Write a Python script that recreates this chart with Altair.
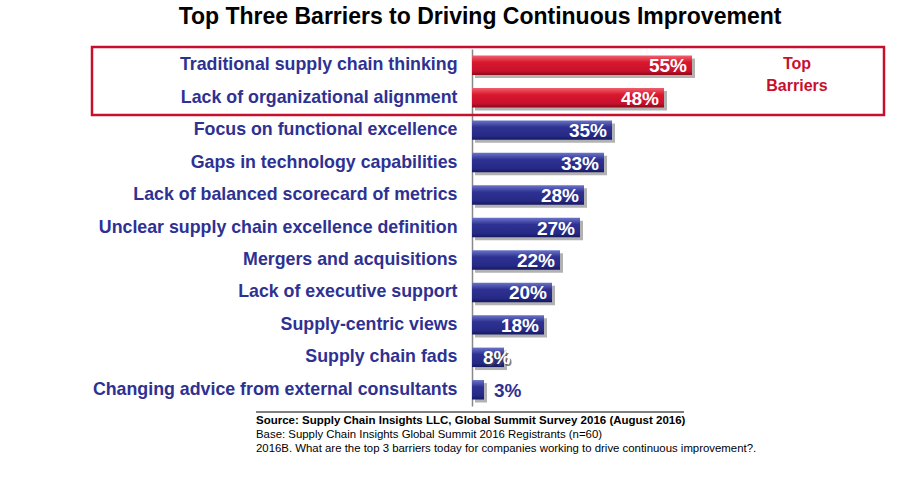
import altair as alt
import pandas as pd

categories = [
    "Traditional supply chain thinking",
    "Lack of organizational alignment",
    "Focus on functional excellence",
    "Gaps in technology capabilities",
    "Lack of balanced scorecard of metrics",
    "Unclear supply chain excellence definition",
    "Mergers and acquisitions",
    "Lack of executive support",
    "Supply-centric views",
    "Supply chain fads",
    "Changing advice from external consultants",
]
values = [55, 48, 35, 33, 28, 27, 22, 20, 18, 8, 3]
groups = ["top", "top"] + ["other"] * 9

title_text = "Top Three Barriers to Driving Continuous Improvement"
footnotes = [
    "Source: Supply Chain Insights LLC, Global Summit Survey 2016 (August 2016)",
    "Base:  Supply Chain Insights Global Summit 2016 Registrants (n=60)",
    "2016B. What are the top 3 barriers today for companies working to drive continuous improvement?.",
]
box_label = ["Top", "Barriers"]

df = pd.DataFrame({"cat": categories, "val": values, "grp": groups})
df["lbl"] = df["val"].astype(str) + "%"

FONT = "Liberation Sans"
NAVY = "#2e3192"
RED = "#c8102e"

W, H = 400, 357
x_scale = alt.Scale(domain=[0, 100])
y_enc = alt.Y("cat:N", sort=categories,
              scale=alt.Scale(paddingInner=0.40, paddingOuter=0.2),
              axis=alt.Axis(title=None, ticks=False, labelFont=FONT, labelFontSize=17.8,
                            labelFontWeight="bold", labelColor=NAVY, labelPadding=15,
                            labelLimit=500, domainColor="#888888", domainWidth=1.5))
x_enc = alt.X("val:Q", scale=x_scale, axis=None)

base = alt.Chart(df)

blue_grad = alt.Gradient(gradient="linear", x1=0, y1=0, x2=0, y2=1,
                         stops=[alt.GradientStop(color="#6a74c8", offset=0),
                                alt.GradientStop(color="#2e3192", offset=0.35),
                                alt.GradientStop(color="#262a85", offset=0.8),
                                alt.GradientStop(color="#151860", offset=1)])
red_grad = alt.Gradient(gradient="linear", x1=0, y1=0, x2=0, y2=1,
                        stops=[alt.GradientStop(color="#f06070", offset=0),
                               alt.GradientStop(color="#d8182c", offset=0.35),
                               alt.GradientStop(color="#c8102e", offset=0.8),
                               alt.GradientStop(color="#8a0a18", offset=1)])

shadow = base.mark_bar(color="#555555", opacity=0.45, xOffset=3, yOffset=3).encode(x=x_enc, y=y_enc)
bars_blue = base.transform_filter(alt.datum.grp == "other").mark_bar(color=blue_grad).encode(x=x_enc, y=y_enc)
bars_red = base.transform_filter(alt.datum.grp == "top").mark_bar(color=red_grad).encode(x=x_enc, y=y_enc)

lbl_in = base.transform_filter(alt.datum.val >= 10).mark_text(
    align="right", baseline="middle", dx=-5, dy=1, font=FONT, fontSize=19,
    fontWeight="bold", color="white").encode(x=x_enc, y=y_enc, text="lbl:N")
small = base.transform_filter((alt.datum.val >= 5) & (alt.datum.val < 10))
lbl_mid_sh = small.mark_text(
    align="left", baseline="middle", dx=1.5, dy=2.5, font=FONT, fontSize=19,
    fontWeight="bold", color="#444444", opacity=0.7).encode(x=alt.value(11), y=y_enc, text="lbl:N")
lbl_mid = small.mark_text(
    align="left", baseline="middle", dy=1, font=FONT, fontSize=19,
    fontWeight="bold", color="white").encode(x=alt.value(11), y=y_enc, text="lbl:N")
lbl_out = base.transform_filter(alt.datum.val < 5).mark_text(
    align="left", baseline="middle", dx=10, dy=1, font=FONT, fontSize=19,
    fontWeight="bold", color=NAVY).encode(x=x_enc, y=y_enc, text="lbl:N")

one = alt.Chart(pd.DataFrame({"k": [0]}))

box = one.mark_rect(fill=None, stroke=RED, strokeWidth=2.5).encode(
    x=alt.value(-380), x2=alt.value(412), y=alt.value(-2), y2=alt.value(66))

box_txt1 = one.mark_text(align="center", baseline="middle", font=FONT, fontSize=16,
                         fontWeight="bold", color=RED).encode(
    x=alt.value(325), y=alt.value(15), text=alt.value(box_label[0]))
box_txt2 = one.mark_text(align="center", baseline="middle", font=FONT, fontSize=16,
                         fontWeight="bold", color=RED).encode(
    x=alt.value(325), y=alt.value(37), text=alt.value(box_label[1]))

title = one.mark_text(align="center", baseline="middle", font=FONT, fontSize=23,
                      fontWeight="bold", color="black").encode(
    x=alt.value(8), y=alt.value(-32), text=alt.value(title_text))

rule = one.mark_rule(color="black", strokeWidth=1).encode(
    x=alt.value(-216), x2=alt.value(212), y=alt.value(363))

fn0 = one.mark_text(align="left", baseline="middle", font=FONT, fontSize=11.5,
                    fontWeight="bold", color="black").encode(
    x=alt.value(-216), y=alt.value(372), text=alt.value(footnotes[0]))
fn1 = one.mark_text(align="left", baseline="middle", font=FONT, fontSize=11.4,
                    color="black").encode(
    x=alt.value(-216), y=alt.value(386), text=alt.value(footnotes[1]))
fn2 = one.mark_text(align="left", baseline="middle", font=FONT, fontSize=11.4,
                    color="black").encode(
    x=alt.value(-216), y=alt.value(400), text=alt.value(footnotes[2]))

chart = alt.layer(
    shadow, bars_blue, bars_red, lbl_in, lbl_mid_sh, lbl_mid, lbl_out, box, box_txt1, box_txt2,
    title, rule, fn0, fn1, fn2
).properties(
    width=W, height=H,
    padding={"left": 472, "top": 49, "right": 28, "bottom": 74},
    autosize=alt.AutoSizeParams(type="none"),
    background="white",
).configure_view(stroke=None)

chart.save("out.html", embed_options={"renderer": "svg", "actions": False})
